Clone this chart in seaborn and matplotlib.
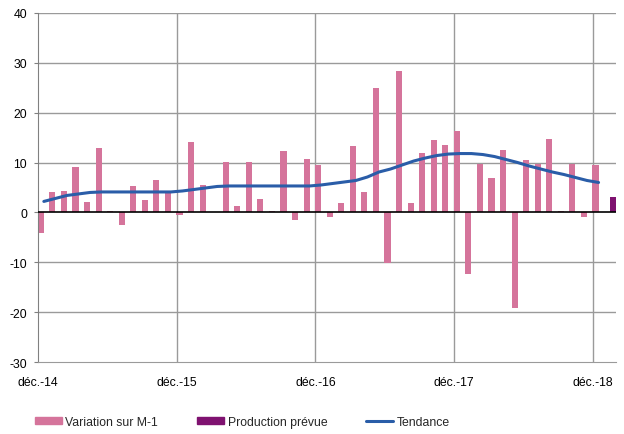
import numpy as np
import pandas as pd
import matplotlib
matplotlib.use("Agg")
import matplotlib.pyplot as plt
from matplotlib.patches import Patch
from matplotlib.lines import Line2D
import seaborn as sns

# monthly variation (déc.-14 .. déc.-18)
variation = [-4.2, 4.0, 4.3, 9.2, 2.1, 12.9, 0.3, -2.5, 5.2, 2.5, 6.5, 3.8,
             -0.5, 14.1, 5.5, 0.1, 10.1, 1.2, 10.1, 2.7, 0.3, 12.3, -1.5, 10.7,
             9.5, -0.9, 1.9, 13.3, 4.0, 24.9, -10.1, 28.3, 1.9, 12.0, 14.5, 13.5,
             16.3, -12.3, 9.8, 6.8, 12.6, -19.1, 10.5, 9.8, 14.8, 0.3, 9.8, -0.9,
             9.5]
# forecast for the next month (janv.-19)
production_prevue = [3.1]
tendance = [2.2, 2.8, 3.4, 3.7, 4.0, 4.1, 4.1, 4.1, 4.1, 4.1, 4.1, 4.1,
            4.3, 4.6, 4.9, 5.2, 5.3, 5.3, 5.3, 5.3, 5.3, 5.3, 5.3, 5.3,
            5.5, 5.8, 6.1, 6.4, 7.1, 8.1, 8.7, 9.5, 10.3, 10.9, 11.4, 11.7,
            11.8, 11.8, 11.6, 11.2, 10.6, 10.0, 9.3, 8.7, 8.1, 7.6, 7.0, 6.4,
            6.0]
tick_labels = ["déc.-14", "déc.-15", "déc.-16", "déc.-17", "déc.-18"]

pink = "#D5749B"
purple = "#7F1270"
blue = "#2A5DA8"

n = len(variation)
bars = pd.DataFrame({
    "mois": list(range(n)) + [n],
    "valeur": variation + production_prevue,
    "serie": ["Variation sur M-1"] * n + ["Production prévue"],
})
trend = pd.DataFrame({"mois": range(n), "tendance": tendance})

sns.set_style("white")
plt.rcParams["font.family"] = ["Liberation Sans", "DejaVu Sans"]
plt.rcParams["axes.unicode_minus"] = False

fig = plt.figure(figsize=(6.24, 4.35), dpi=100)
ax = fig.add_axes([0.061, 0.1655, 0.926, 0.8025])

sns.barplot(data=bars, x="mois", y="valeur", hue="serie",
            palette={"Variation sur M-1": pink, "Production prévue": purple},
            width=1.05, gap=0, saturation=1, linewidth=0, dodge=True,
            legend=False, ax=ax, zorder=2)
sns.lineplot(data=trend, x="mois", y="tendance", color=blue, linewidth=2.2,
             ax=ax, zorder=4)

ax.set_xlim(-0.5, n + 0.5)
ax.set_ylim(-30, 40)
ax.set_yticks(range(-30, 41, 10))
grid_pos = [-0.5 + 12 * k for k in range(len(tick_labels))]
ax.set_xticks(grid_pos)
ax.set_xticklabels(tick_labels)
ax.set_xlabel("")
ax.set_ylabel("")

for y in range(-20, 41, 10):
    if y != 0:
        ax.axhline(y, color="#9a9a9a", linewidth=1.0, zorder=1)
for x in grid_pos[1:]:
    ax.axvline(x, color="#9a9a9a", linewidth=1.0, zorder=1)
ax.axhline(0, color="black", linewidth=1.2, zorder=3)

for side in ["top", "right"]:
    ax.spines[side].set_visible(False)
ax.spines["left"].set_color("#808080")
ax.spines["bottom"].set_color("#9a9a9a")
ax.tick_params(axis="both", labelsize=8.8, colors="black", length=0)
ax.tick_params(axis="x", pad=10)
ax.tick_params(axis="y", length=3, color="#808080", direction="out", pad=5, left=True)

handles = [Patch(color=pink), Patch(color=purple), Line2D([], [], color=blue, linewidth=2.2)]
fig.legend(handles, ["Variation sur M-1", "Production prévue", "Tendance"],
           loc="center left", bbox_to_anchor=(0.038, 0.028), ncol=3, frameon=False,
           fontsize=8.8, handlelength=2.2, handleheight=0.6, handletextpad=0.3,
           columnspacing=3.2)

fig.savefig("out.png", dpi=100)
